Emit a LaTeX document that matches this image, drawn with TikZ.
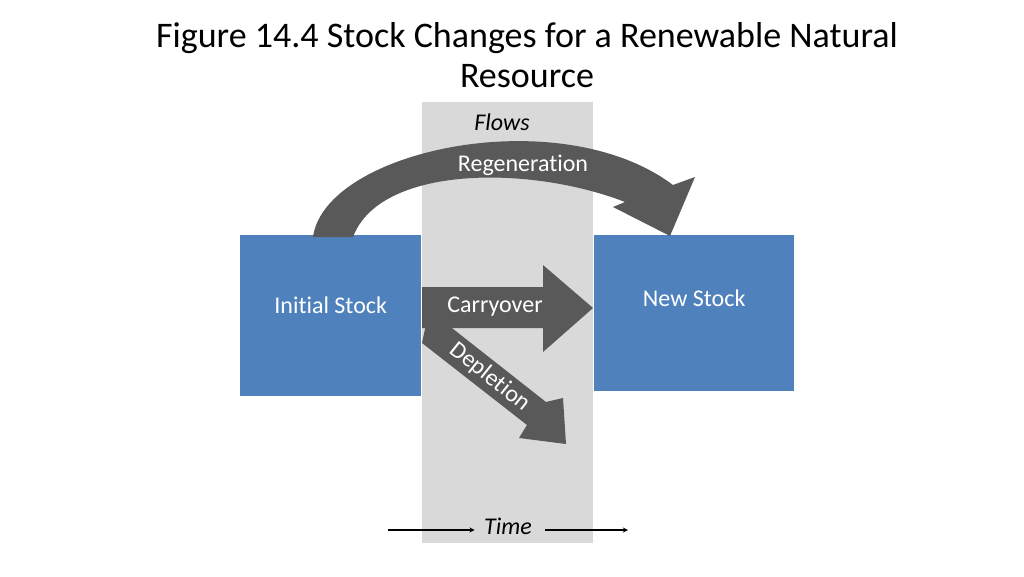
\documentclass[tikz,border=0pt]{standalone}
\usepackage{fontspec}
\setmainfont{Carlito}[Ligatures={NoCommon}]
\begin{document}
\begin{tikzpicture}[x=1pt,y=-1pt,
  lbl/.style={text=white,font=\fontsize{24}{28}\selectfont},
  arr/.style={fill=arrgray,draw=none}]
\definecolor{arrgray}{HTML}{595959}
\definecolor{bandgray}{HTML}{D9D9D9}
\definecolor{stockblue}{HTML}{4F81BD}
\useasboundingbox (0,0) rectangle (1024,576);
\fill[white] (0,0) rectangle (1024,576);
\node[font=\fontsize{36}{40}\selectfont,align=center] (title) at (527,55) {Figure 14.4 Stock Changes for a Renewable Natural\\Resource};
\fill[bandgray] (422,102) rectangle (593,543);
\node[font=\itshape\fontsize{24}{28}\selectfont] (flows) at (502,122) {Flows};
\node[fill=stockblue,minimum width=181,minimum height=161,inner sep=0,anchor=north west] (init) at (240,235) {};
\node[lbl] at ([yshift=10pt]init.center) {Initial Stock};
\node[fill=stockblue,minimum width=200,minimum height=156,inner sep=0,anchor=north west] (new) at (594,235) {};
\node[lbl] at ([yshift=15pt]new.center) {New Stock};
% regeneration
\fill[arr] (313,237) .. controls (325,150) and (560,100) .. (673,185)
  -- (695,177) -- (670,236) -- (613,207) -- (625,202)
  .. controls (530,165) and (380,165) .. (353,237) -- cycle;
\node[lbl] (regen) at (523,165) {Regeneration};
% depletion
\fill[arr] (429,310) -- (546,402) -- (563,398) -- (566,444) -- (519,438) -- (527,425) -- (422,343) -- cycle;
\node[lbl,rotate=-38.7,inner sep=0] (depl) at (490,377) {Depletion};
% carryover
\fill[arr] (422,287) -- (543,287) -- (543,265) -- (593,308) -- (543,352) -- (543,328) -- (422,328) -- cycle;
\node[lbl] (carry) at (495,307) {Carryover};
% time
\node[font=\itshape\fontsize{24}{28}\selectfont] (time) at (508,526) {Time};
\coordinate (t1) at (388,530);
\coordinate (t2) at (545,530);
\coordinate (t3) at (628,530);
\draw[line width=1.3pt,-stealth] (t1) -- ([xshift=-6pt]time.west |- t1);
\draw[line width=1.3pt,-stealth] (t2) -- (t3);
\end{tikzpicture}
\end{document}
